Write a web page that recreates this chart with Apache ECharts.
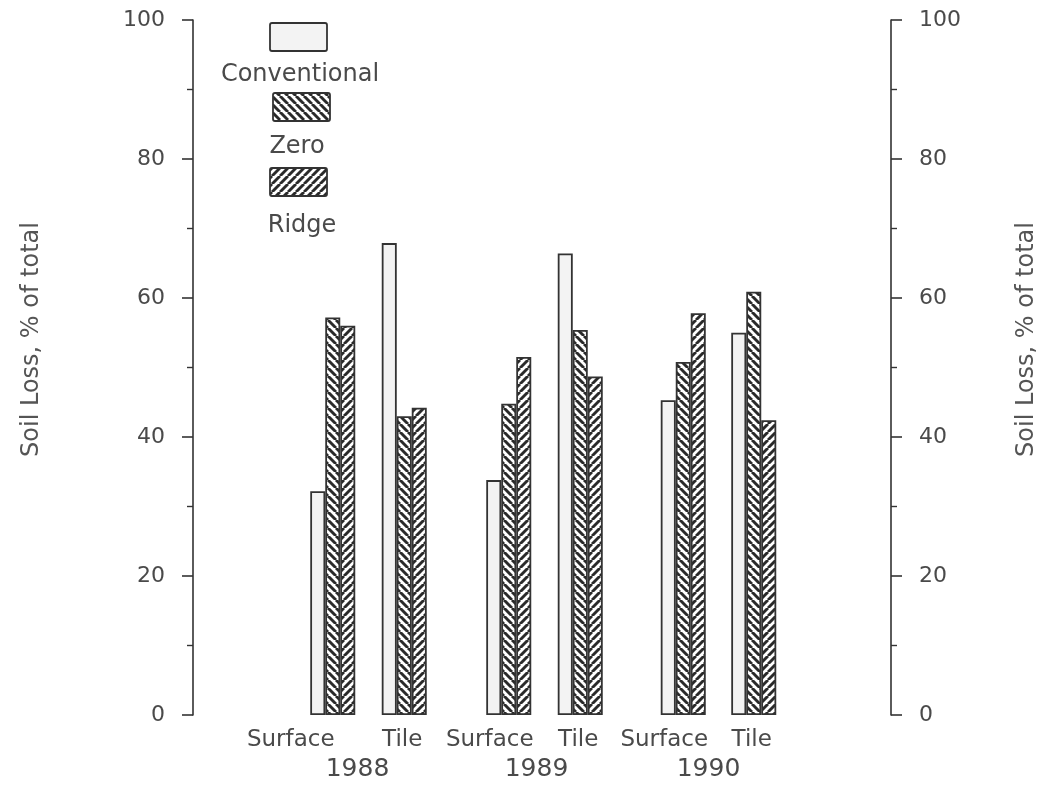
<!DOCTYPE html>
<html>
<head>
<meta charset="utf-8">
<title>Soil Loss, % of total</title>
<script src="https://cdn.jsdelivr.net/npm/echarts@6/dist/echarts.min.js"></script>
<style>
  html, body { margin: 0; padding: 0; background: #ffffff; }
  #chart { width: 1047px; height: 787px; }
</style>
</head>
<body>
<div id="chart"></div>
<script>
// Soil loss by drainage path, share of the total (%), per tillage system
const years = ['1988', '1989', '1990'];
const sites = ['Surface', 'Tile'];
const treatments = ['Conventional', 'Zero', 'Ridge'];

// values in order: 1988 Surface, 1988 Tile, 1989 Surface, 1989 Tile, 1990 Surface, 1990 Tile
const conventional = [32.2, 67.9, 33.8, 66.4, 45.3, 55.0];
const zero         = [57.2, 43.0, 44.8, 55.4, 50.8, 60.9];
const ridge        = [56.0, 44.2, 51.5, 48.7, 57.8, 42.4];

const yMin = 0, yMax = 100, yStep = 20;

// ---- layout ----
const FONT = 'DejaVu Sans';
const INK = '#333333';
const TEXT = '#4a4a4a';
const plotTop = 20, plotBottom = 72;
// one narrow grid per year, holding its Surface and Tile groups
const yearGrids = [
  { left: 297, width: 143, surfaceShift: 42, tileShift: 2, yearShift: 11 },
  { left: 473, width: 143, surfaceShift: 19, tileShift: 2, yearShift: 8 },
  { left: 648, width: 141, surfaceShift: 19, tileShift: 2, yearShift: 10 }
];

// diagonal hatch fills; dir 1 = "\\\\", dir -1 = "////"
function hatch(dir) {
  const P = 8;
  const c = document.createElement('canvas');
  c.width = P; c.height = P;
  const g = c.getContext('2d');
  g.fillStyle = '#ffffff';
  g.fillRect(0, 0, P, P);
  g.strokeStyle = '#2a2a2a';
  g.lineWidth = 2.9;
  g.beginPath();
  for (const o of [-P, 0, P]) {
    if (dir > 0) { g.moveTo(o, 0); g.lineTo(o + P, P); }
    else { g.moveTo(o + P, 0); g.lineTo(o, P); }
  }
  g.stroke();
  return { image: c, repeat: 'repeat' };
}

const fills = {
  Conventional: '#f3f3f3',
  Zero: hatch(1),
  Ridge: hatch(-1)
};
const valuesOf = { Conventional: conventional, Zero: zero, Ridge: ridge };

const grid = [];
const xAxis = [];
const yAxis = [];
const series = [];

yearGrids.forEach((g, i) => {
  grid.push({ left: g.left, width: g.width, top: plotTop, bottom: plotBottom });
  xAxis.push({
    gridIndex: i,
    type: 'category',
    data: sites,
    axisLine: { show: false },
    axisTick: { show: false },
    axisLabel: {
      margin: 14,
      interval: 0,
      formatter: (v) => (v === 'Surface' ? '{s|' + v + '}' : '{t|' + v + '}'),
      rich: {
        s: { fontFamily: FONT, fontSize: 23, color: TEXT, padding: [0, g.surfaceShift * 2, 0, 0] },
        t: { fontFamily: FONT, fontSize: 23, color: TEXT, padding: [0, g.tileShift * 2, 0, 0] }
      }
    },
    name: years[i],
    nameLocation: 'middle',
    nameGap: 42,
    nameTextStyle: {
      fontFamily: FONT, fontSize: 25, color: TEXT,
      padding: [0, g.yearShift * 2, 0, 0]
    }
  });
  yAxis.push({ gridIndex: i, type: 'value', min: yMin, max: yMax, show: false });

  treatments.forEach((t) => {
    series.push({
      type: 'bar',
      name: t,
      xAxisIndex: i,
      yAxisIndex: i,
      barWidth: 15,
      barGap: '0%',
      data: valuesOf[t].slice(i * 2, i * 2 + 2),
      itemStyle: { color: fills[t], borderColor: INK, borderWidth: 1.8 },
      emphasis: { disabled: true }
    });
  });
});

// frame grid carrying the two value scales
const frame = grid.length;
grid.push({ left: 193, right: 154, top: plotTop, bottom: plotBottom });
xAxis.push({ gridIndex: frame, type: 'value', min: 0, max: 1, show: false });

const scaleAxis = (position, nameGap) => ({
  gridIndex: frame,
  type: 'value',
  position: position,
  min: yMin,
  max: yMax,
  interval: yStep,
  name: 'Soil Loss, % of total',
  nameLocation: 'middle',
  nameRotate: 90,
  nameGap: nameGap,
  nameTextStyle: { fontFamily: FONT, fontSize: 24, color: '#555555', padding: [0, 0, 0, 56] },
  axisLine: { show: true, lineStyle: { color: INK, width: 1.6 } },
  axisTick: { show: true, inside: false, length: 11, lineStyle: { color: INK, width: 1.6 } },
  minorTick: { show: true, splitNumber: 2, length: 6, lineStyle: { color: INK, width: 1.4 } },
  splitLine: { show: false },
  axisLabel: { fontFamily: FONT, fontSize: 22, color: TEXT, margin: 28 }
});
yAxis.push(scaleAxis('left', 149));
yAxis.push(scaleAxis('right', 124));

// key: swatch above each name
const key = [
  { name: 'Conventional', box: [270, 23], text: [300, 63] },
  { name: 'Zero',         box: [273, 93], text: [297, 135] },
  { name: 'Ridge',        box: [270, 168], text: [302, 214] }
];
const graphic = [];
key.forEach((k) => {
  graphic.push({
    type: 'rect',
    shape: { x: k.box[0], y: k.box[1], width: 57, height: 28, r: 2 },
    style: { fill: fills[k.name], stroke: INK, lineWidth: 1.8 },
    silent: true
  });
  graphic.push({
    type: 'text',
    x: k.text[0], y: k.text[1],
    style: {
      text: k.name, fill: TEXT, font: '24px "DejaVu Sans"',
      textAlign: 'center', textVerticalAlign: 'top'
    },
    silent: true
  });
});

const chart = echarts.init(document.getElementById('chart'), null, { renderer: 'canvas' });
chart.setOption({
  backgroundColor: '#ffffff',
  animation: false,
  textStyle: { fontFamily: FONT },
  grid: grid,
  xAxis: xAxis,
  yAxis: yAxis,
  series: series,
  graphic: graphic
});
</script>
</body>
</html>
